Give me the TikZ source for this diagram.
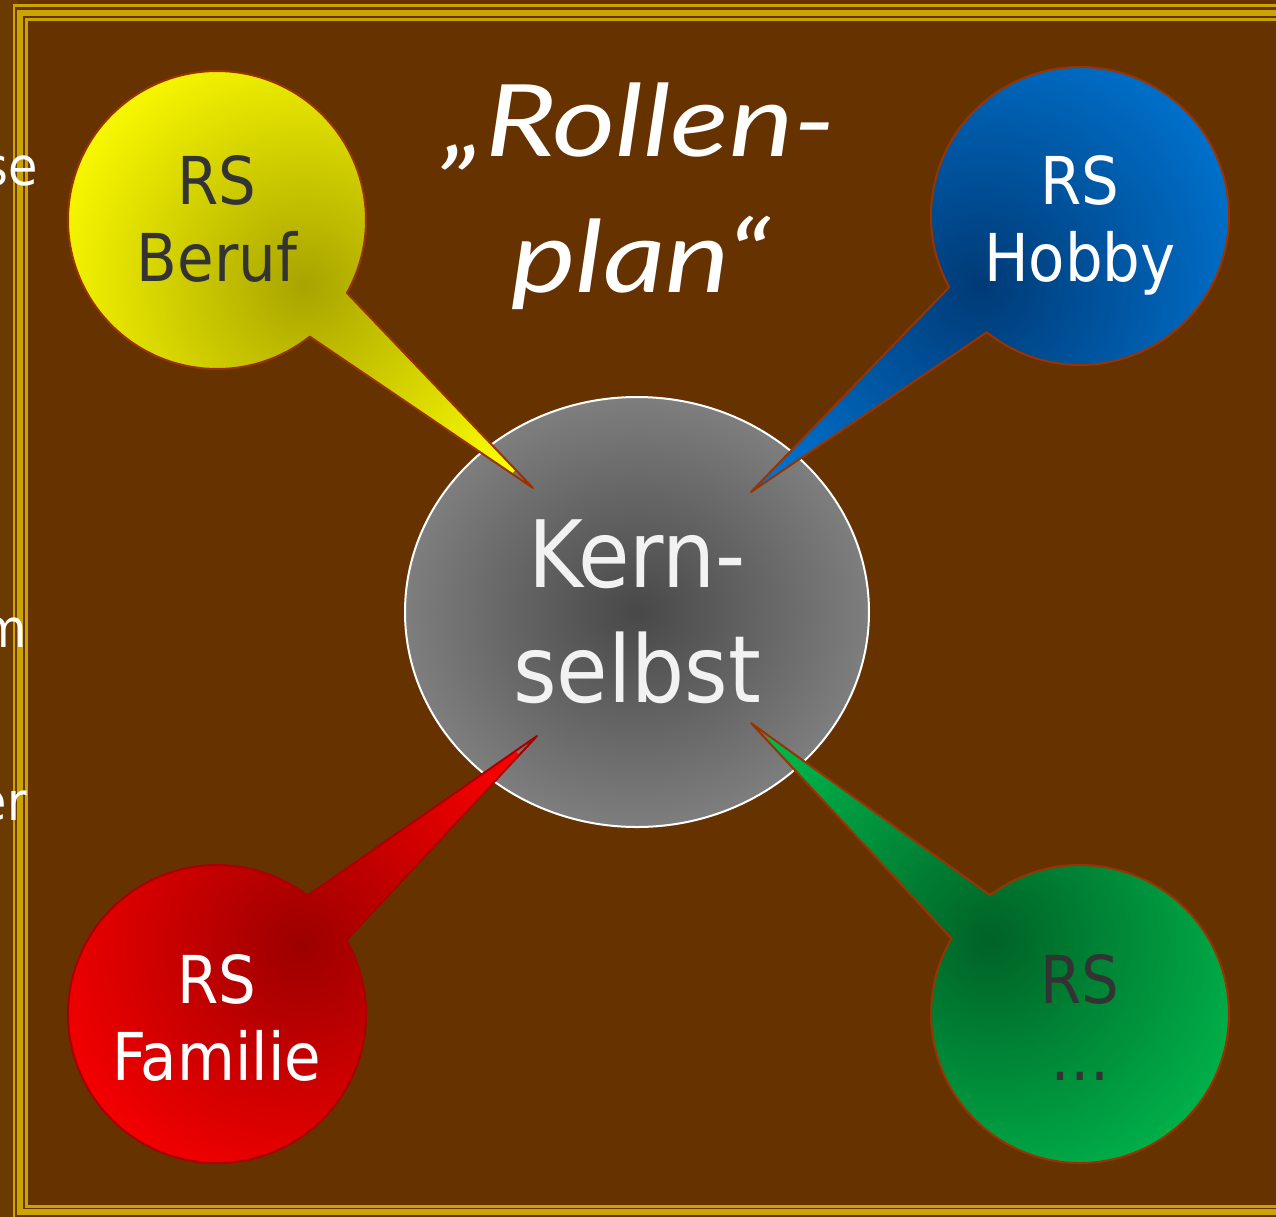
\documentclass[tikz,border=0pt]{standalone}
\usepackage{fontspec}
\setmainfont{DejaVu Sans Condensed}
\newfontfamily\handfont{Lato}
\usetikzlibrary{shapes.geometric,calc}
\definecolor{bgbrown}{HTML}{663300}
\definecolor{gold}{HTML}{CCA400}
\definecolor{edgebrown}{HTML}{993300}
\definecolor{txtdark}{HTML}{333333}
\definecolor{ydark}{HTML}{A8A400}
\definecolor{ybright}{HTML}{FFFF00}
\definecolor{bdark}{HTML}{003A76}
\definecolor{bbright}{HTML}{0076D4}
\definecolor{rdark}{HTML}{9C0000}
\definecolor{rbright}{HTML}{FF0000}
\definecolor{redge}{HTML}{A80000}
\definecolor{gdark}{HTML}{006226}
\definecolor{gbright}{HTML}{00BA4E}
\definecolor{kdark}{HTML}{484848}
\definecolor{klight}{HTML}{7E7E7E}
\definecolor{stripmid}{HTML}{9C6600}
\definecolor{stripend}{HTML}{6A3A00}
\begin{document}
\begin{tikzpicture}[x=0.5pt,y=-0.5pt,
  bubbleline/.style={draw=edgebrown, line width=1pt, line join=round},
  rstext/.style={align=center, inner sep=0pt, anchor=north,
    font=\fontsize{33}{38.5}\selectfont},
  fragtext/.style={inner sep=0pt, anchor=base east, text=white,
    font=\fontsize{26.5}{30}\selectfont},
  goldline/.style={draw=gold}]
\useasboundingbox (0,0) rectangle (1276,1217);
\clip (0,0) rectangle (1276,1217);
% background
\fill[bgbrown] (0,0) rectangle (1276,1217);
\shade[top color=stripend, middle color=stripmid, bottom color=stripend] (0,0) rectangle (17.3,1217);
% frame
\draw[goldline, line width=1.2pt] (13.9,5.5) rectangle (1320,1218.5);
\draw[goldline, line width=2.75pt] (20,12.9) rectangle (1320,1212.2);
\draw[goldline, line width=1.3pt] (26.7,19.5) rectangle (1320,1206.3);
% centre ellipse
\node[ellipse, minimum width=232pt, minimum height=215pt, inner sep=0pt,
  draw=white, line width=1pt, inner color=kdark, outer color=klight,
  align=center, text=white!95!black, font=\fontsize{46.5}{57.5}\selectfont]
  (kern) at (637,612) {Kern-\\selbst};
% bubble centres and tips
\coordinate (yc) at (217,220);
\coordinate (ytip) at (533,488);
\coordinate (bc) at (1080,216);
\coordinate (btip) at (751,492);
\coordinate (rc) at (217,1014);
\coordinate (rtip) at (537,736);
\coordinate (gc) at (1080,1014);
\coordinate (gtip) at (751,723);
% yellow bubble
\path[bubbleline, path picture={\shade[inner color=ydark, outer color=ybright] (305,285) circle (280);}]
  (ytip) -- ($(yc)+(51.5:149)$) arc[start angle=51.5, end angle=389.3, radius=149] -- cycle;
% blue bubble
\path[bubbleline, path picture={\shade[inner color=bdark, outer color=bbright] (980,285) circle (300);}]
  (btip) -- ($(bc)+(151.4:149)$) arc[start angle=151.4, end angle=488.7, radius=149] -- cycle;
% red bubble
\path[bubbleline, draw=redge, path picture={\shade[inner color=rdark, outer color=rbright] (300,945) circle (290);}]
  (rtip) -- ($(rc)+(330.3:149)$) arc[start angle=330.3, end angle=667.4, radius=149] -- cycle;
% green bubble
\path[bubbleline, path picture={\shade[inner color=gdark, outer color=gbright] (990,940) circle (300);}]
  (gtip) -- ($(gc)+(232.9:149)$) arc[start angle=232.9, end angle=570.4, radius=149] -- cycle;
% bubble texts
\node[rstext, text=txtdark] (beruf) at (217,155) {RS\\Beruf};
\node[rstext, text=white] (hobby) at (1080,155) {RS\\Hobby};
\node[rstext, text=white] (familie) at (217,954) {RS\\Familie};
\node[rstext, text=txtdark] (etc) at (1080,954) {RS\\…};
% title
\node[anchor=north, inner sep=0pt, align=center, text=white,
  font=\handfont\itshape\fontsize{50}{68}\selectfont]
  (title) at (640,82) {\scalebox{1.22}[1]{„Rollen-}\\\scalebox{1.22}[1]{plan“}};
% cut-off text fragments at the left edge
\node[fragtext] (frag1) at (38,185) {se};
\node[fragtext] (frag2) at (27,647) {m};
\node[fragtext] (frag3) at (27,820) {er};
\end{tikzpicture}
\end{document}
